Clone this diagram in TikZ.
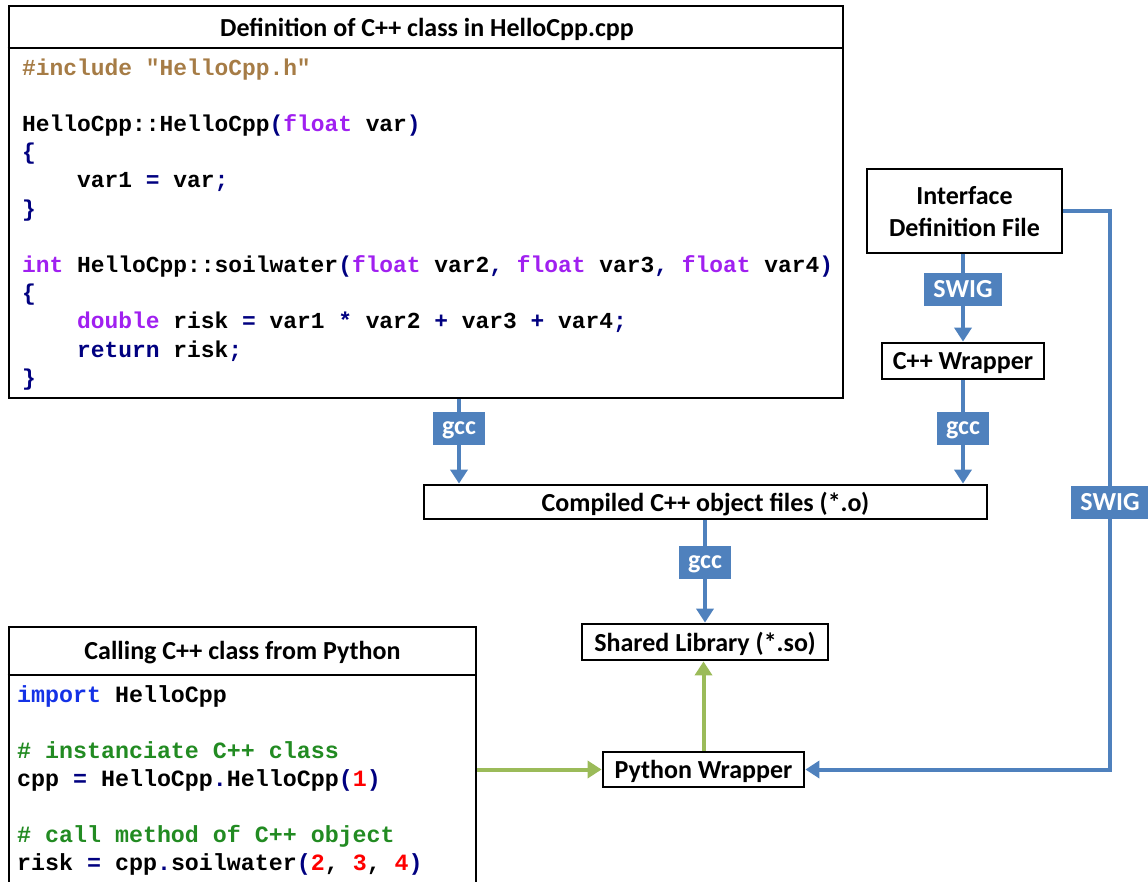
\documentclass[tikz,border=0pt]{standalone}
\usepackage{fontspec}
\setmainfont{Carlito}
\newfontfamily\codefam{Liberation Mono}
\usetikzlibrary{arrows.meta}
\definecolor{ablue}{RGB}{79,129,189}
\definecolor{agreen}{RGB}{155,187,89}
\definecolor{incl}{RGB}{166,124,70}
\definecolor{purp}{RGB}{160,32,240}
\definecolor{navyc}{RGB}{0,0,128}
\definecolor{pyblue}{RGB}{20,50,230}
\definecolor{cgreen}{RGB}{34,139,34}
\definecolor{numred}{RGB}{255,0,0}
\newcommand\kwp[1]{\textcolor{purp}{#1}}
\newcommand\nv[1]{\textcolor{navyc}{#1}}
\newcommand\rd[1]{\textcolor{numred}{#1}}
\tikzset{
  box/.style={draw=black, line width=2.8pt, inner sep=0pt, align=center,
    text depth=0pt, font=\bfseries\fontsize{26}{32}\selectfont},
  ttl/.style={inner sep=0pt, font=\bfseries\fontsize{26}{32}\selectfont},
  lab/.style={fill=ablue, text=white, inner xsep=9pt, inner ysep=0pt,
    text depth=0pt, minimum height=33pt, font=\bfseries\fontsize{26}{30}\selectfont},
  flow/.style={draw=ablue, line width=4pt, -{Triangle[width=17pt,length=14pt]}},
  gflow/.style={draw=agreen, line width=4pt, -{Triangle[width=17pt,length=14pt]}},
  codeA/.style={anchor=base west, inner sep=0pt,
    font=\codefam\bfseries\fontsize{22.9}{28}\selectfont},
  codeB/.style={anchor=base west, inner sep=0pt,
    font=\codefam\bfseries\fontsize{23.3}{28}\selectfont},
}
\begin{document}
\begin{tikzpicture}[x=1pt,y=-1pt]
\useasboundingbox (0,0) rectangle (1148,881);

% top code box
\node[box, minimum width=834pt, minimum height=392pt] (cbox) at (426,202) {};
\draw[line width=2.8pt] (cbox.west |- 0,48) -- (cbox.east |- 0,48);
\node[ttl] (t1) at (427,29) {Definition of C++ class in HelloCpp.cpp};
\node[codeA] (c1) at (22,75) {\textcolor{incl}{\#include "HelloCpp.h"}};
\node[codeA] (c3) at (22,131.4) {HelloCpp::HelloCpp\nv{(}\kwp{float} var\nv{)}};
\node[codeA] (c4) at (22,159.6) {\nv{\{}};
\node[codeA] (c5) at (22,187.8) {\phantom{0000}var1 \nv{=} var\nv{;}};
\node[codeA] (c6) at (22,216) {\nv{\}}};
\node[codeA] (c8) at (22,272.4) {\kwp{int} HelloCpp::soilwater\nv{(}\kwp{float} var2\nv{,} \kwp{float} var3\nv{,} \kwp{float} var4\nv{)}};
\node[codeA] (c9) at (22,300.6) {\nv{\{}};
\node[codeA] (c10) at (22,328.8) {\phantom{0000}\kwp{double} risk \nv{=} var1 \nv{*} var2 \nv{+} var3 \nv{+} var4\nv{;}};
\node[codeA] (c11) at (22,357) {\phantom{0000}\nv{return} risk\nv{;}};
\node[codeA] (c12) at (22,385.2) {\nv{\}}};

% bottom code box
\node[box, minimum width=467pt, minimum height=280pt] (pbox) at (242.5,767) {};
\draw[line width=2.8pt] (pbox.west |- 0,675) -- (pbox.east |- 0,675);
\node[ttl] (t2) at (242.5,653) {Calling C++ class from Python};
\node[codeB] (p1) at (17,702) {\textcolor{pyblue}{import} HelloCpp};
\node[codeB] (p3) at (17,758) {\textcolor{cgreen}{\# instanciate C++ class}};
\node[codeB] (p4) at (17,786) {cpp \nv{=} HelloCpp\nv{.}HelloCpp\nv{(}\rd{1}\nv{)}};
\node[codeB] (p6) at (17,842) {\textcolor{cgreen}{\# call method of C++ object}};
\node[codeB] (p7) at (17,870) {risk \nv{=} cpp\nv{.}soilwater\nv{(}\rd{2}, \rd{3}, \rd{4}\nv{)}};

% flow boxes
\node[box, minimum width=195pt, minimum height=84pt] (idf) at (964.5,211) {Interface\\Definition File};
\node[box, minimum width=162pt, minimum height=36pt] (cppw) at (963,361) {C++ Wrapper};
\node[box, minimum width=563pt, minimum height=34pt] (comp) at (705.5,502) {Compiled C++ object files (*.o)};
\node[box, minimum width=246pt, minimum height=36pt] (shl) at (705,642) {Shared Library (*.so)};
\node[box, minimum width=201pt, minimum height=35pt] (py) at (703.5,769.5) {Python Wrapper};

% label anchors
\coordinate (g1) at (459,428);
\coordinate (s1) at (963,289);
\coordinate (g2) at (963,428);
\coordinate (g3) at (705,562);
\coordinate (s2) at (1110,502);

% connectors
\draw[flow] (cbox.south -| g1) -- (comp.north -| g1);
\draw[flow] (idf.south -| s1) -- (cppw.north -| s1);
\draw[flow] (cppw.south -| g2) -- (comp.north -| g2);
\draw[flow] (comp.south -| g3) -- (shl.north -| g3);
\draw[flow] (idf.east) -- (s2 |- idf.east) -- (s2 |- py.east) -- (py.east);
\draw[gflow] (pbox.east |- py.west) -- (py.west);
\draw[gflow] (py.north) -- (py.north |- shl.south);

% labels
\node[lab] (lg1) at (g1) {gcc};
\node[lab] (ls1) at (s1) {SWIG};
\node[lab] (lg2) at (g2) {gcc};
\node[lab] (lg3) at (g3) {gcc};
\node[lab] (ls2) at (s2) {SWIG};
\end{tikzpicture}
\end{document}
